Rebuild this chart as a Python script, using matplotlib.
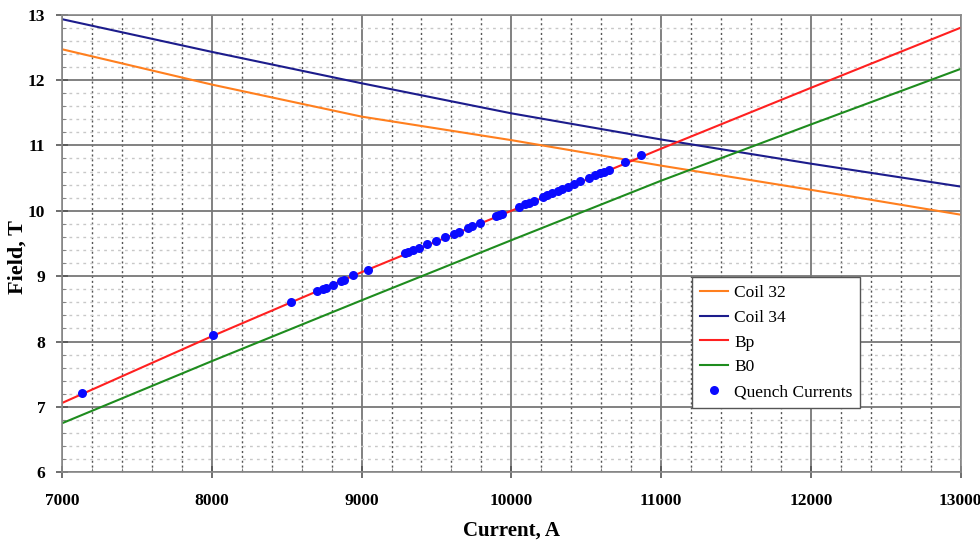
import numpy as np
import matplotlib
matplotlib.use("Agg")
import matplotlib.pyplot as plt
from matplotlib.ticker import MultipleLocator

plt.rcParams['font.family'] = ['Liberation Serif', 'DejaVu Serif']

# field curves
current = [7000, 8000, 9000, 10000, 11000, 12000, 13000]
coil32 = [12.47, 11.93, 11.44, 11.08, 10.69, 10.32, 9.94]
coil34 = [12.93, 12.43, 11.95, 11.49, 11.09, 10.72, 10.37]
bp = [7.06, 8.08, 9.06, 10.00, 10.95, 11.88, 12.80]
b0 = [6.75, 7.70, 8.63, 9.55, 10.46, 11.32, 12.17]

# quench points
quench_i = [7130, 8005, 8530, 8700, 8740, 8760, 8810, 8860, 8880, 8940,
            9045, 9290, 9310, 9340, 9380, 9440, 9500, 9560, 9620, 9650,
            9710, 9740, 9790, 9900, 9920, 9940, 10050, 10090, 10120, 10150,
            10210, 10240, 10270, 10310, 10340, 10380, 10420, 10460, 10520,
            10560, 10590, 10620, 10650, 10760, 10865]
quench_b = [7.22, 8.10, 8.61, 8.77, 8.80, 8.82, 8.87, 8.92, 8.94, 9.01,
            9.10, 9.35, 9.37, 9.40, 9.43, 9.49, 9.54, 9.60, 9.65, 9.68,
            9.74, 9.77, 9.81, 9.92, 9.94, 9.95, 10.06, 10.10, 10.12, 10.15,
            10.21, 10.24, 10.27, 10.30, 10.33, 10.37, 10.41, 10.45, 10.50,
            10.54, 10.57, 10.60, 10.63, 10.75, 10.86]

fig = plt.figure(figsize=(9.8, 5.41), dpi=100)
ax = fig.add_axes([0.0633, 0.127, 0.917, 0.846])

ax.plot(current, coil32, color="#ff7f1e", lw=1.5, label="Coil 32")
ax.plot(current, coil34, color="#1c1c8c", lw=1.5, label="Coil 34")
ax.plot(current, bp, color="#ff2020", lw=1.5, label="Bp")
ax.plot(current, b0, color="#1e8c1e", lw=1.5, label="B0")
ax.plot(quench_i, quench_b, "o", color="#0a0aff", ms=6.5, mew=0,
        label="Quench Currents", zorder=5)

ax.set_xlim(7000, 13000)
ax.set_ylim(6, 13)
ax.xaxis.set_major_locator(MultipleLocator(1000))
ax.xaxis.set_minor_locator(MultipleLocator(200))
ax.yaxis.set_major_locator(MultipleLocator(1))
ax.yaxis.set_minor_locator(MultipleLocator(0.2))

ax.grid(which="major", color="#777777", lw=1.3, ls="-")
ax.grid(which="minor", axis="x", color="#555555", lw=1.0, ls=(0, (1.5, 2)))
ax.grid(which="minor", axis="y", color="#c8c8c8", lw=1.0, ls=(0, (2, 3)))
ax.set_axisbelow(True)

for s in ax.spines.values():
    s.set_color("#888888")
    s.set_linewidth(1.2)

ax.tick_params(which="major", direction="inout", length=8, width=1.2,
               color="#555555", labelsize=12.5)
ax.tick_params(axis="x", which="major", pad=11)
ax.tick_params(axis="y", which="major", pad=8)
ax.tick_params(which="minor", direction="in", length=3, color="#777777")
for lab in ax.get_xticklabels() + ax.get_yticklabels():
    lab.set_fontweight("bold")

ax.set_xlabel("Current, A", fontsize=15, fontweight="bold", labelpad=8)
ax.set_ylabel("Field, T", fontsize=16, fontweight="bold")
ax.yaxis.set_label_coords(-0.038, 0.47)

leg = ax.legend(loc="lower left", bbox_to_anchor=(0.7007, 0.1405),
                borderaxespad=0, fontsize=12.5, fancybox=False,
                framealpha=1, edgecolor="#555555", handlelength=1.65,
                handletextpad=0.35, labelspacing=0.5, borderpad=0.45)
leg.get_frame().set_linewidth(1.0)

fig.savefig("out.png", dpi=100)
